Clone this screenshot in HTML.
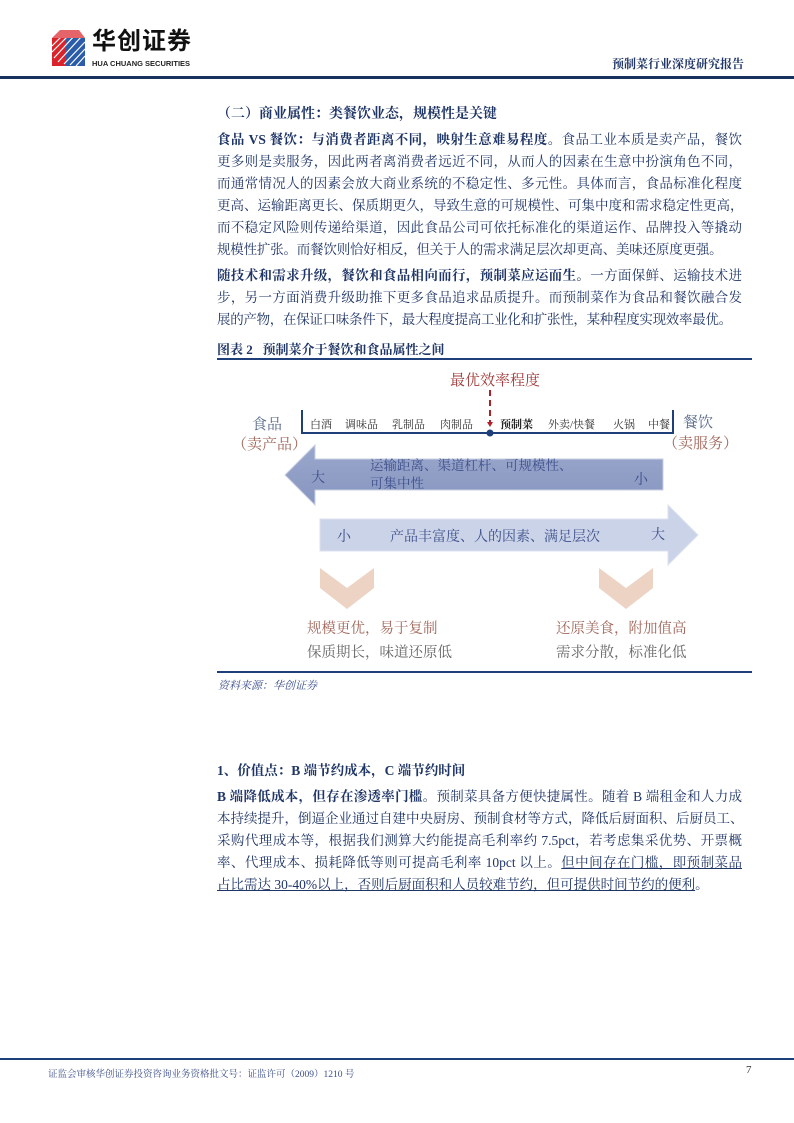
<!DOCTYPE html>
<html><head><meta charset="utf-8">
<style>
body{margin:0;width:794px;height:1123px;position:relative;background:#fff;overflow:hidden;font-family:"Liberation Serif","Noto Serif CJK SC",serif;color:#1f3566}
.a{position:absolute;white-space:nowrap}
.ln{position:absolute;left:217px;width:525px;font-size:13.5px;line-height:22px;height:22px;text-align:justify;text-align-last:justify;white-space:nowrap;overflow:visible}
b{font-weight:bold}
.s{font-family:"Liberation Sans","Noto Sans CJK SC",sans-serif}
</style></head><body>
<!-- header -->
<svg class="a" style="left:50px;top:28px" width="40" height="42" viewBox="0 0 40 42">
<polygon points="2,10 16,10 16,38 2,38" fill="#d9222a"/>
<polygon points="16,10 35,10 35,38 16,38" fill="#2a5caa"/>
<g stroke="#fff" stroke-width="1.2">
<line x1="2" y1="18" x2="14" y2="6"/><line x1="2" y1="24" x2="20" y2="6"/><line x1="4" y1="30" x2="26" y2="6"/><line x1="8" y1="34" x2="32" y2="8"/><line x1="14" y1="36" x2="35" y2="14"/><line x1="20" y1="37" x2="35" y2="21"/><line x1="26" y1="38" x2="35" y2="28"/>
</g>
<polygon points="2,10 10,2 29,2 35,10" fill="#d9222a" opacity=".7"/>
</svg>
<div class="a s" style="left:92px;top:28px;font-size:24px;line-height:28px;font-weight:bold;color:#111;letter-spacing:1px">华创证券</div>
<div class="a s" style="left:92px;top:59px;font-size:7.5px;line-height:9px;font-weight:bold;color:#222">HUA CHUANG SECURITIES</div>
<div class="a" style="left:612px;top:55px;font-size:12px;font-weight:bold;color:#1f3566">预制菜行业深度研究报告</div>
<div class="a" style="left:0;top:76px;width:794px;height:3px;background:#17325f"></div>

<div class="a" style="left:217px;top:103px;font-size:14px;font-weight:bold">（二）商业属性：类餐饮业态，规模性是关键</div>

<div class="ln" style="top:129px"><b>食品 VS 餐饮：与消费者距离不同，映射生意难易程度。</b>食品工业本质是卖产品，餐饮</div>
<div class="ln" style="top:151px">更多则是卖服务，因此两者离消费者远近不同，从而人的因素在生意中扮演角色不同，</div>
<div class="ln" style="top:173px">而通常情况人的因素会放大商业系统的不稳定性、多元性。具体而言，食品标准化程度</div>
<div class="ln" style="top:195px">更高、运输距离更长、保质期更久，导致生意的可规模性、可集中度和需求稳定性更高，</div>
<div class="ln" style="top:217px">而不稳定风险则传递给渠道，因此食品公司可依托标准化的渠道运作、品牌投入等撬动</div>
<div class="ln" style="top:239px;text-align-last:left;letter-spacing:-0.2px">规模性扩张。而餐饮则恰好相反，但关于人的需求满足层次却更高、美味还原度更强。</div>

<div class="ln" style="top:265px"><b>随技术和需求升级，餐饮和食品相向而行，预制菜应运而生。</b>一方面保鲜、运输技术进</div>
<div class="ln" style="top:287px">步，另一方面消费升级助推下更多食品追求品质提升。而预制菜作为食品和餐饮融合发</div>
<div class="ln" style="top:309px;text-align-last:left;letter-spacing:-0.3px">展的产物，在保证口味条件下，最大程度提高工业化和扩张性，某种程度实现效率最优。</div>

<div class="a" style="left:217px;top:339px;font-size:13px;font-weight:bold">图表 2&nbsp;&nbsp;&nbsp;预制菜介于餐饮和食品属性之间</div>
<div class="a" style="left:217px;top:358px;width:535px;height:2px;background:#1f3f7a"></div>

<!-- diagram -->
<svg class="a" style="left:0;top:0" width="794" height="700">
<defs><linearGradient id="g1" x1="0" x2="0" y1="0" y2="1"><stop offset="0" stop-color="#9aa7cc"/><stop offset="1" stop-color="#8796c0"/></linearGradient></defs>
<line x1="490" y1="390" x2="490" y2="423" stroke="#b0202a" stroke-width="2" stroke-dasharray="6,4"/>
<polygon points="487,422 493,422 490,427" fill="#b0202a"/>
<polyline points="302,410 302,433 673,433 673,410" fill="none" stroke="#1f3f7a" stroke-width="2"/>
<circle cx="490" cy="433" r="3.5" fill="#1f3f7a"/>
<polygon points="285,475 315,445 315,459 663,459 663,490 315,490 315,505" fill="url(#g1)" stroke="#c8cfe2" stroke-width="1"/>
<polygon points="320,519 668,519 668,505 698,535 668,565 668,551 320,551" fill="#cbd3e8" stroke="#dde2ef" stroke-width="1"/>
<polygon points="320,568 347,588 374,568 374,588 347,609 320,588" fill="#ecd3c4"/>
<polygon points="599,568 626,588 653,568 653,588 626,609 599,588" fill="#ecd3c4"/>
</svg>
<div class="a" style="left:450px;top:369px;font-size:15px;color:#a03a3a">最优效率程度</div>
<div class="a" style="left:310px;top:416px;font-size:11px;color:#333">白酒</div>
<div class="a" style="left:345px;top:416px;font-size:11px;color:#333">调味品</div>
<div class="a" style="left:392px;top:416px;font-size:11px;color:#333">乳制品</div>
<div class="a" style="left:440px;top:416px;font-size:11px;color:#333">肉制品</div>
<div class="a" style="left:500px;top:416px;font-size:11px;color:#222;font-weight:bold">预制菜</div>
<div class="a" style="left:548px;top:416px;font-size:11px;color:#333">外卖/快餐</div>
<div class="a" style="left:613px;top:416px;font-size:11px;color:#333">火锅</div>
<div class="a" style="left:648px;top:416px;font-size:11px;color:#333">中餐</div>
<div class="a" style="left:252px;top:413px;font-size:15px;color:#5a6a8a">食品</div>
<div class="a" style="left:232px;top:433px;font-size:15px;color:#a0665a">（卖产品）</div>
<div class="a" style="left:683px;top:411px;font-size:15px;color:#5a6a8a">餐饮</div>
<div class="a" style="left:663px;top:432px;font-size:15px;color:#a0665a">（卖服务）</div>
<div class="a" style="left:370px;top:457px;font-size:13.5px;color:#3d4f8a;line-height:18px">运输距离、渠道杠杆、可规模性、<br>可集中性</div>
<div class="a" style="left:311px;top:467px;font-size:14px;color:#3d4f8a">大</div>
<div class="a" style="left:634px;top:469px;font-size:14px;color:#3d4f8a">小</div>
<div class="a" style="left:337px;top:526px;font-size:14px;color:#3d4f8a">小</div>
<div class="a" style="left:390px;top:526px;font-size:14px;color:#3d4f8a">产品丰富度、人的因素、满足层次</div>
<div class="a" style="left:651px;top:524px;font-size:14px;color:#3d4f8a">大</div>
<div class="a" style="left:307px;top:617px;font-size:14.5px;color:#a0665a">规模更优，易于复制</div>
<div class="a" style="left:307px;top:641px;font-size:14.5px;color:#666">保质期长，味道还原低</div>
<div class="a" style="left:556px;top:617px;font-size:14.5px;color:#a0665a">还原美食，附加值高</div>
<div class="a" style="left:556px;top:641px;font-size:14.5px;color:#666">需求分散，标准化低</div>
<div class="a" style="left:217px;top:671px;width:535px;height:2px;background:#1f3f7a"></div>
<div class="a" style="left:218px;top:677px;font-size:11px;font-style:italic;color:#3d4f8a">资料来源：华创证券</div>

<div class="a" style="left:217px;top:759px;font-size:13.5px;font-weight:bold">1、价值点：B 端节约成本，C 端节约时间</div>
<div class="ln" style="top:786px"><b>B 端降低成本，但存在渗透率门槛</b>。预制菜具备方便快捷属性。随着 B 端租金和人力成</div>
<div class="ln" style="top:808px">本持续提升，倒逼企业通过自建中央厨房、预制食材等方式，降低后厨面积、后厨员工、</div>
<div class="ln" style="top:830px">采购代理成本等，根据我们测算大约能提高毛利率约 7.5pct，若考虑集采优势、开票概</div>
<div class="ln" style="top:852px">率、代理成本、损耗降低等则可提高毛利率 10pct 以上。<u>但中间存在门槛，即预制菜品</u></div>
<div class="ln" style="top:874px;text-align-last:left;width:auto"><u>占比需达 30-40%以上，否则后厨面积和人员较难节约，但可提供时间节约的便利</u>。</div>

<div class="a" style="left:0;top:1058px;width:794px;height:2px;background:#1f3f7a"></div>
<div class="a" style="left:48px;top:1066px;font-size:9.5px;color:#3d4f8a">证监会审核华创证券投资咨询业务资格批文号：证监许可（2009）1210 号</div>
<div class="a" style="left:746px;top:1064px;font-size:11px;color:#333">7</div>
</body></html>
